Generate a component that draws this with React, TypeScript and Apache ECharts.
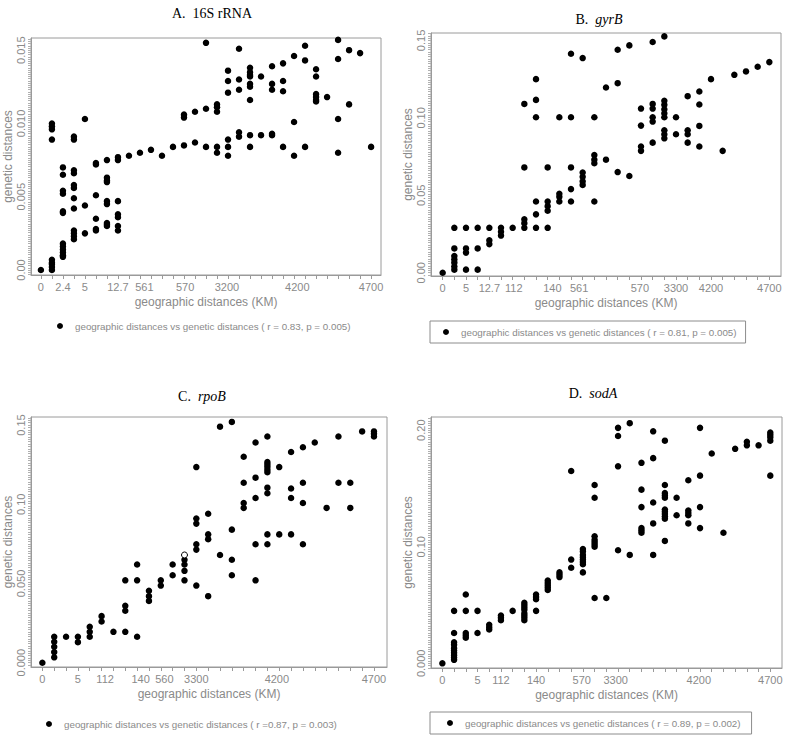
import React, { useEffect, useRef } from "react";
import * as echarts from "echarts";

// ---------- DATA ----------
// Each inner array holds the genetic distances plotted at that x-axis column (index = column).
const rrnaValues: number[][] = [
  [0],
  [0.0007, 0.0005, 0.0004, 0.0002, 0.0, 0.01, 0.0098, 0.0096, 0.0089],
  [0.0018, 0.0016, 0.0014, 0.0012, 0.001, 0.0009, 0.004, 0.0039, 0.0054, 0.0052, 0.0065, 0.007],
  [0.0027, 0.0025, 0.0023, 0.0021, 0.0042, 0.0049, 0.0058, 0.0056, 0.0068, 0.0066, 0.0091, 0.0089],
  [0.0025, 0.0044, 0.0103],
  [0.0028, 0.0027, 0.0035, 0.0051, 0.0073, 0.0072],
  [0.0032, 0.0031, 0.003, 0.0047, 0.0045, 0.0063, 0.0061, 0.006, 0.0075],
  [0.0027, 0.003, 0.0038, 0.0036, 0.0047, 0.0077, 0.0075],
  [0.0078],
  [0.008],
  [0.0082],
  [0.0078],
  [0.0084],
  [0.0085, 0.0106, 0.0104],
  [0.0087, 0.0108],
  [0.0084, 0.011, 0.0155],
  [0.0084, 0.008, 0.0113, 0.0111, 0.0108],
  [0.0078, 0.0084, 0.0089, 0.0121, 0.0129, 0.0136],
  [0.0091, 0.0094, 0.0123, 0.013, 0.0151],
  [0.0084, 0.0092, 0.0116, 0.0125, 0.0127, 0.0132, 0.0133, 0.0135, 0.0138],
  [0.0092, 0.0132],
  [0.0093, 0.0092, 0.0123, 0.0127, 0.0139],
  [0.0084, 0.0122, 0.0129, 0.0141],
  [0.0078, 0.0101, 0.0146],
  [0.0084, 0.0143, 0.0153],
  [0.0115, 0.0116, 0.0118, 0.012, 0.0132, 0.0137],
  [0.0118],
  [0.008, 0.0103, 0.0144, 0.0157],
  [0.0113, 0.015],
  [0.0148],
  [0.0084],
];
const rrnaXLabels = ["0", "2.4", "5", "12.7", "561", "570", "3200", "4200", "4700"];
const rrnaXLabelCols = [0, 2, 4, 7, 9.4, 13.1, 16.9, 23.3, 30];
const rrnaYLabels = ["0.00", "0.005", "0.010", "0.015"];
const rrnaYLabelVals = [0, 0.005, 0.01, 0.015];

const gyrBValues: number[][] = [
  [0],
  [0.002, 0.004, 0.0065, 0.0086, 0.0108, 0.0157, 0.029],
  [0.002, 0.013, 0.0157, 0.029],
  [0.002, 0.0157, 0.029],
  [0.0185, 0.021, 0.029],
  [0.024, 0.0265, 0.029],
  [0.029],
  [0.029, 0.032, 0.0345, 0.068, 0.109],
  [0.029, 0.0377, 0.046, 0.1004, 0.1116, 0.125],
  [0.029, 0.04, 0.043, 0.046, 0.068],
  [0.046, 0.049, 0.051, 0.1004],
  [0.046, 0.054, 0.068, 0.1004, 0.1414],
  [0.0567, 0.059, 0.062, 0.0647, 0.1386],
  [0.046, 0.0707, 0.073, 0.076, 0.1004],
  [0.073, 0.1196],
  [0.065, 0.1224, 0.144],
  [0.0625, 0.1468],
  [0.0787, 0.0815, 0.095, 0.106],
  [0.084, 0.0976, 0.1004, 0.106, 0.109, 0.149],
  [0.0868, 0.0894, 0.092, 0.1004, 0.103, 0.1056, 0.1084, 0.111, 0.1526],
  [0.0894, 0.1004],
  [0.084, 0.0894, 0.092, 0.114],
  [0.0815, 0.0948, 0.1086, 0.117],
  [0.125],
  [0.0787],
  [0.1278],
  [0.13],
  [0.133],
  [0.136],
];
const gyrBXLabels = ["0", "5", "12.7", "112", "140", "561", "570", "3300", "4200", "4700"];
const gyrBXLabelCols = [0, 2, 4, 6.1, 9.4, 11.7, 16.9, 20, 23, 28];
const gyrBYLabels = ["0.00", "0.05", "0.10", "0.15"];
const gyrBYLabelVals = [0, 0.05, 0.1, 0.15];

const rpoBValues: number[][] = [
  [0],
  [0.0164, 0.0132, 0.0101, 0.0067, 0.0034],
  [0.0164],
  [0.0164, 0.013],
  [0.0227, 0.0195, 0.0164],
  [0.0294, 0.026],
  [0.0195],
  [0.052, 0.0359, 0.0328, 0.0195],
  [0.062, 0.052, 0.0164],
  [0.0454, 0.042, 0.039],
  [0.052, 0.0487],
  [0.062, 0.0552],
  [0.065, 0.062, 0.058, 0.052],
  [0.1235, 0.091, 0.0878, 0.0748, 0.0714, 0.0487],
  [0.094, 0.081, 0.078, 0.042],
  [0.149, 0.068],
  [0.152, 0.084, 0.065, 0.0552],
  [0.13, 0.1136, 0.1008, 0.0977],
  [0.139, 0.1168, 0.104, 0.0748, 0.052],
  [0.1428, 0.1266, 0.125, 0.1235, 0.1218, 0.1203, 0.1105, 0.107, 0.081, 0.0748],
  [0.1235, 0.081],
  [0.133, 0.11, 0.104, 0.081],
  [0.136, 0.1136, 0.1008, 0.0748],
  [0.139],
  [0.0977],
  [0.1428, 0.1136],
  [0.1136, 0.0977],
  [0.146],
  [0.146, 0.1445, 0.1428],
];
const rpoBOpenPoints: number[][] = [[12, 0.068]];
const rpoBXLabels = ["0", "5", "112", "140", "560", "3300", "4200", "4700"];
const rpoBXLabelCols = [0, 3, 5.3, 8.3, 10.3, 13, 19.8, 28];
const rpoBYLabels = ["0.000", "0.050", "0.10", "0.15"];
const rpoBYLabelVals = [0, 0.05, 0.1, 0.15];

const sodAValues: number[][] = [
  [0],
  [0.003, 0.005, 0.007, 0.009, 0.011, 0.013, 0.016, 0.018, 0.026, 0.045],
  [0.022, 0.024, 0.026, 0.045, 0.059],
  [0.026, 0.045],
  [0.029, 0.031, 0.033],
  [0.037, 0.039, 0.041],
  [0.045],
  [0.037, 0.039, 0.041, 0.043, 0.046, 0.048, 0.05, 0.052],
  [0.045, 0.055, 0.057, 0.059],
  [0.063, 0.065, 0.067, 0.069, 0.071],
  [0.074, 0.076, 0.078],
  [0.082, 0.089, 0.165],
  [0.078, 0.085, 0.087, 0.089, 0.091, 0.093, 0.096, 0.098],
  [0.056, 0.1, 0.102, 0.104, 0.106, 0.109, 0.142, 0.153],
  [0.056],
  [0.097, 0.169, 0.195, 0.202],
  [0.093, 0.206],
  [0.112, 0.114, 0.116, 0.134, 0.149, 0.172],
  [0.093, 0.12, 0.138, 0.176, 0.199],
  [0.105, 0.124, 0.126, 0.128, 0.13, 0.132, 0.142, 0.144, 0.146, 0.153, 0.191],
  [0.127, 0.142],
  [0.12, 0.127, 0.129, 0.131, 0.157],
  [0.116, 0.134, 0.161, 0.202],
  [0.18],
  [0.112],
  [0.184],
  [0.187, 0.19],
  [0.187],
  [0.161, 0.191, 0.194, 0.196, 0.198],
];
const sodAXLabels = ["0", "5", "112", "140", "570", "3300", "4200", "4700"];
const sodAXLabelCols = [0, 3, 5, 8, 11.9, 14.8, 21.9, 28];
const sodAYLabels = ["0.000", "0.10", "0.20"];
const sodAYLabelVals = [0, 0.1, 0.2];

const seriesNames = [
  "geographic distances vs genetic distances ( r = 0.83, p = 0.005)",
  "geographic distances vs genetic distances ( r = 0.81, p = 0.005)",
  "geographic distances vs genetic distances ( r =0.87, p = 0.003)",
  "geographic distances vs genetic distances ( r = 0.89, p = 0.002)",
];
const titles = ["{n|A.  16S rRNA}", "{n|B.  }{i|gyrB}", "{n|C.  }{i|rpoB}", "{n|D.  }{i|sodA}"];
const xAxisName = "geographic distances (KM)";
const yAxisName = "genetic distances";

// ---------- STYLE / LAYOUT ----------
const SANS = "'Liberation Sans', Arial, sans-serif";
const SERIF = "'Liberation Serif', 'Times New Roman', serif";
const GRAY = "#8a8a8a";
const FRAME = "#9a9a9a";

const layouts = [
  {
    grid: { left: 31, top: 38, width: 350, height: 237 },
    x: [-0.9, 30.9], y: [-0.00034, 0.01583], yTickStep: 0.00015,
    title: { left: 207, top: 1 },
    legend: { left: 57, top: 321, padL: 0, padR: 0, boxed: false },
  },
  {
    grid: { left: 431, top: 33, width: 350, height: 243 },
    x: [-1, 29], y: [-0.0021, 0.1548], yTickStep: 0.0015,
    title: { left: 594, top: 7 },
    legend: { left: 430, top: 321, padL: 13, padR: 9, boxed: true },
  },
  {
    grid: { left: 31, top: 417, width: 356, height: 250 },
    x: [-0.96, 29.1], y: [-0.0027, 0.1551], yTickStep: 0.0015,
    title: { left: 197, top: 384 },
    legend: { left: 46, top: 719, padL: 0, padR: 0, boxed: false },
  },
  {
    grid: { left: 431, top: 417, width: 351, height: 251 },
    x: [-0.97, 29.0], y: [-0.004, 0.2113], yTickStep: 0.002,
    title: { left: 588, top: 381 },
    legend: { left: 430, top: 712, padL: 17, padR: 11, boxed: true },
  },
];

const panelData = [
  { values: rrnaValues, xl: rrnaXLabels, xc: rrnaXLabelCols, yl: rrnaYLabels, yv: rrnaYLabelVals },
  { values: gyrBValues, xl: gyrBXLabels, xc: gyrBXLabelCols, yl: gyrBYLabels, yv: gyrBYLabelVals },
  { values: rpoBValues, xl: rpoBXLabels, xc: rpoBXLabelCols, yl: rpoBYLabels, yv: rpoBYLabelVals },
  { values: sodAValues, xl: sodAXLabels, xc: sodAXLabelCols, yl: sodAYLabels, yv: sodAYLabelVals },
];

function toPoints(cols: number[][]): number[][] {
  const pts: number[][] = [];
  cols.forEach((vals, c) => vals.forEach((v) => pts.push([c, v])));
  return pts;
}

function denseTicks(min: number, max: number, step: number): number[] {
  const out: number[] = [];
  const k0 = Math.ceil(min / step);
  const k1 = Math.floor(max / step);
  for (let k = k0; k <= k1; k++) out.push(+(k * step).toFixed(6));
  return out;
}

function labelFor(vals: number[], labels: string[]) {
  return (v: number) => {
    const i = vals.findIndex((x) => Math.abs(x - v) < 1e-9);
    return i >= 0 ? labels[i] : "";
  };
}

function buildOption() {
  const grid: any[] = [];
  const xAxis: any[] = [];
  const yAxis: any[] = [];
  const series: any[] = [];
  const legend: any[] = [];
  const title: any[] = [];

  panelData.forEach((p, i) => {
    const L = layouts[i];
    grid.push({ ...L.grid, show: true, borderColor: FRAME, borderWidth: 1, backgroundColor: "transparent" });
    const cols = p.values.map((_, c) => c);
    xAxis.push({
      gridIndex: i,
      type: "value",
      min: L.x[0],
      max: L.x[1],
      axisLine: { show: true, onZero: false, lineStyle: { color: FRAME } },
      axisTick: { show: true, customValues: cols, length: 4, lineStyle: { color: FRAME } },
      axisLabel: {
        customValues: p.xc,
        formatter: labelFor(p.xc, p.xl),
        color: GRAY,
        fontFamily: SANS,
        fontSize: 11,
        margin: 6,
      },
      splitLine: { show: false },
      name: xAxisName,
      nameLocation: "middle",
      nameGap: 21,
      nameTextStyle: { color: GRAY, fontFamily: SANS, fontSize: 12 },
    });
    yAxis.push({
      gridIndex: i,
      type: "value",
      min: L.y[0],
      max: L.y[1],
      axisLine: { show: true, onZero: false, lineStyle: { color: FRAME } },
      axisTick: {
        show: true,
        customValues: denseTicks(L.y[0], L.y[1], L.yTickStep),
        length: 3,
        lineStyle: { color: "#b0b0b0" },
      },
      axisLabel: {
        customValues: p.yv,
        formatter: labelFor(p.yv, p.yl),
        rotate: 90,
        color: GRAY,
        fontFamily: SANS,
        fontSize: 11,
        margin: 5,
      },
      splitLine: { show: false },
      name: yAxisName,
      nameLocation: "middle",
      nameGap: 17,
      nameTextStyle: { color: GRAY, fontFamily: SANS, fontSize: 12 },
    });
    series.push({
      type: "scatter",
      name: seriesNames[i],
      xAxisIndex: i,
      yAxisIndex: i,
      data: toPoints(p.values),
      symbol: "circle",
      symbolSize: 6.5,
      itemStyle: { color: "#000", opacity: 1 },
    });
    legend.push({
      data: [seriesNames[i]],
      left: L.legend.left,
      top: L.legend.top,
      icon: "circle",
      itemWidth: 20,
      itemHeight: 6,
      itemGap: 0,
      selectedMode: false,
      padding: L.legend.boxed ? [6, L.legend.padR, 6, L.legend.padL] : 0,
      borderColor: L.legend.boxed ? "#8c8c8c" : "transparent",
      borderWidth: L.legend.boxed ? 1 : 0,
      itemStyle: { opacity: 1 },
      textStyle: { color: GRAY, fontFamily: SANS, fontSize: 9.8 },
    });
    title.push({
      text: titles[i],
      left: L.title.left,
      top: L.title.top,
      textAlign: "center",
      textStyle: {
        rich: {
          n: { fontFamily: SERIF, fontSize: 14, color: "#000", fontWeight: "normal" },
          i: { fontFamily: SERIF, fontSize: 14, color: "#000", fontWeight: "normal", fontStyle: "italic" },
        },
      },
    });
  });

  series.push({
    type: "scatter",
    name: "open",
    xAxisIndex: 2,
    yAxisIndex: 2,
    data: rpoBOpenPoints,
    symbol: "circle",
    symbolSize: 6,
    itemStyle: { color: "#fff", borderColor: "#000", borderWidth: 1, opacity: 1 },
  });

  return { animation: false, backgroundColor: "#fff", grid, xAxis, yAxis, series, legend, title };
}

export default function App() {
  const ref = useRef<HTMLDivElement>(null);
  useEffect(() => {
    if (!ref.current) return;
    const chart = echarts.init(ref.current, undefined, { renderer: "svg" });
    chart.setOption(buildOption() as any);
    return () => chart.dispose();
  }, []);
  return (
    <div
      ref={ref}
      style={{ position: "absolute", left: 0, top: 0, width: 787, height: 740, background: "#fff" }}
    />
  );
}
